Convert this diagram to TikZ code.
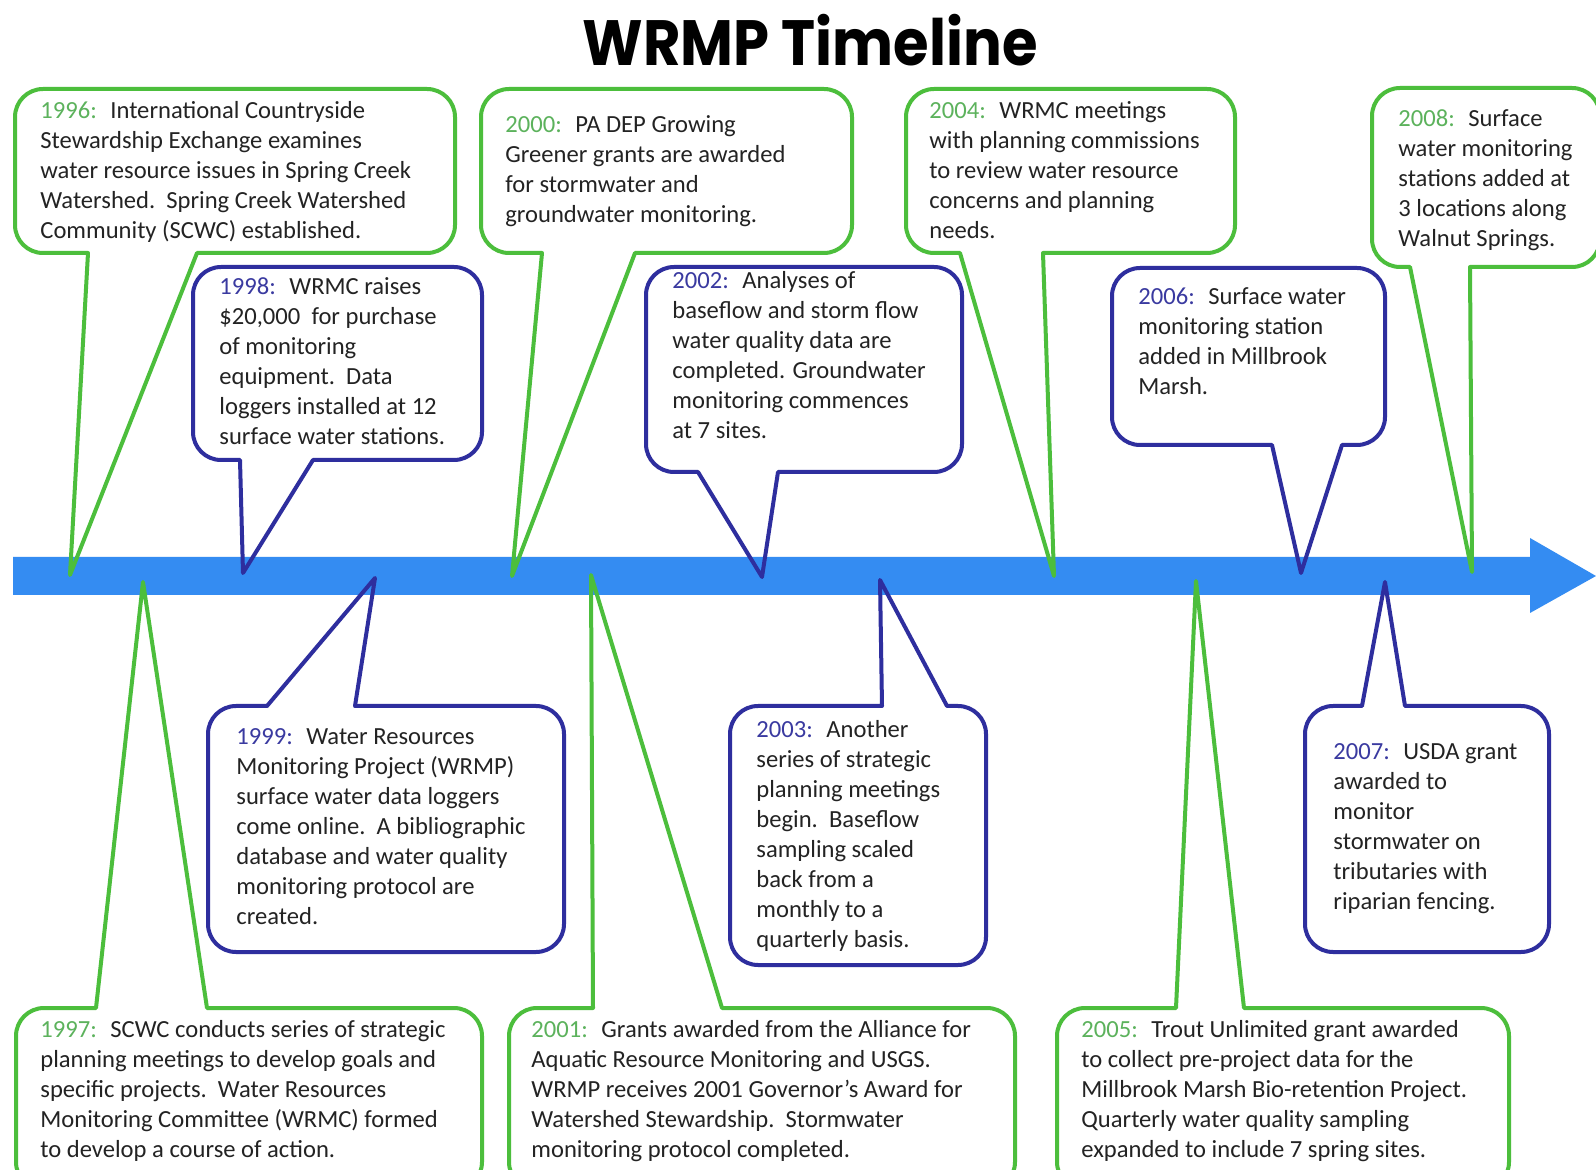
\documentclass[tikz,border=0pt]{standalone}
\usepackage{fontspec}
\setmainfont{Carlito}
\newfontfamily\titlefont{Poppins}
\definecolor{arrowblue}{RGB}{52,140,242}
\definecolor{gline}{RGB}{76,190,60}
\definecolor{bline}{RGB}{46,46,158}
\definecolor{gyear}{RGB}{92,178,92}
\definecolor{byear}{RGB}{58,58,160}
\definecolor{bodytxt}{RGB}{35,35,35}
\tikzset{
  calloutG/.style={draw=gline,line width=2pt,line join=round},
  calloutB/.style={draw=bline,line width=2pt,line join=round},
  txt/.style={anchor=north west,inner sep=0pt,align=left,text=bodytxt,
    font=\fontsize{12.3}{15}\selectfont},
  ttl/.style={font=\titlefont\bfseries\fontsize{32}{38}\selectfont}
}
\newcommand\crad{28}
\newcommand\yg[1]{\textcolor{gyear}{#1}\hspace{0.55em}}
\newcommand\yb[1]{\textcolor{byear}{#1}\hspace{0.55em}}
\newcommand\firstlinestrut{\vrule height 0.75em width 0pt\relax}
% x1 y1 x2 y2 baseleft baseright tipx tipy style
\newcommand\topcall[9]{%
  \draw[#9] (#5,-#4) -- ({#1+\crad},-#4)
    arc[start angle=270,end angle=180,radius=\crad]
    -- (#1,{-#2-\crad})
    arc[start angle=180,end angle=90,radius=\crad]
    -- ({#3-\crad},-#2)
    arc[start angle=90,end angle=0,radius=\crad]
    -- (#3,{-#4+\crad})
    arc[start angle=0,end angle=-90,radius=\crad]
    -- (#6,-#4) -- (#7,-#8) -- cycle;}
\newcommand\botcall[9]{%
  \draw[#9] (#5,-#2) -- (#7,-#8) -- (#6,-#2)
    -- ({#3-\crad},-#2)
    arc[start angle=90,end angle=0,radius=\crad]
    -- (#3,{-#4+\crad})
    arc[start angle=0,end angle=-90,radius=\crad]
    -- ({#1+\crad},-#4)
    arc[start angle=270,end angle=180,radius=\crad]
    -- (#1,{-#2-\crad})
    arc[start angle=180,end angle=90,radius=\crad]
    -- cycle;}
\begin{document}
\begin{tikzpicture}[x=0.5pt,y=0.5pt]
\useasboundingbox (0,0) rectangle (1596,-1170);
\clip (0,0) rectangle (1596,-1170);
\fill[white] (0,0) rectangle (1596,-1170);
% title
\node[ttl,text=black] (title) at (810,-40) {\scalebox{0.9}[1]{WRMP Timeline}};
% timeline arrow
\fill[arrowblue] (13,-557) -- (1530,-557) -- (1530,-538) -- (1596,-576)
  -- (1530,-613) -- (1530,-595) -- (13,-595) -- cycle;
% top callouts
\topcall{15}{89}{455}{253}{88}{197}{70}{575}{calloutG}
\topcall{193}{267}{482}{460}{240}{313}{243}{573}{calloutB}
\topcall{481}{89}{852}{253}{542}{635}{512}{576}{calloutG}
\topcall{646}{267}{962}{472}{698}{778}{762}{577}{calloutB}
\topcall{906}{89}{1235}{253}{960}{1043}{1054}{576}{calloutG}
\topcall{1112}{268}{1385}{445}{1272}{1342}{1301}{573}{calloutB}
\topcall{1372}{88}{1600}{267}{1410}{1470}{1472}{572}{calloutG}
% bottom callouts
\botcall{16}{1008}{482}{1190}{96}{207}{143}{582}{calloutG}
\botcall{208}{706}{564}{952}{267}{355}{375}{578}{calloutB}
\botcall{509}{1008}{1015}{1190}{593}{722}{591}{575}{calloutG}
\botcall{730}{706}{986}{965}{882}{947}{880}{580}{calloutB}
\botcall{1057}{1008}{1509}{1190}{1176}{1244}{1196}{581}{calloutG}
\botcall{1305}{706}{1549}{952}{1362}{1405}{1385}{582}{calloutB}
% texts
\node[txt] (t1996) at (40,-99.3) {\firstlinestrut\yg{1996:}International Countryside\\
Stewardship Exchange examines\\water resource issues in Spring Creek\\
Watershed.\ \ Spring Creek Watershed\\Community (SCWC) established.};
\node[txt] (t1998) at (219,-275.3) {\firstlinestrut\yb{1998:}WRMC raises\\
\$20,000\ \ for purchase\\of monitoring\\equipment.\ \ Data\\
loggers installed at 12\\surface water stations.};
\node[txt] (t2000) at (505,-113.3) {\firstlinestrut\yg{2000:}PA DEP Growing\\
Greener grants are awarded\\for stormwater and\\groundwater monitoring.};
\node[txt] (t2002) at (672,-269.3) {\firstlinestrut\yb{2002:}Analyses of\\
baseflow and storm flow\\water quality data are\\completed. Groundwater\\
monitoring commences\\at 7 sites.};
\node[txt] (t2004) at (929,-99.5) {\firstlinestrut\yg{2004:}WRMC meetings\\
with planning commissions\\to review water resource\\concerns and planning\\needs.};
\node[txt] (t2006) at (1138,-285.3) {\firstlinestrut\yb{2006:}Surface water\\
monitoring station\\added in Millbrook\\Marsh.};
\node[txt] (t2008) at (1398,-107.3) {\firstlinestrut\yg{2008:}Surface\\
water monitoring\\stations added at\\3 locations along\\Walnut Springs.};
\node[txt] (t1997) at (40,-1018.3) {\firstlinestrut\yg{1997:}SCWC conducts series of strategic\\
planning meetings to develop goals and\\specific projects.\ \ Water Resources\\
Monitoring Committee (WRMC) formed\\to develop a course of action.};
\node[txt] (t1999) at (236,-725.3) {\firstlinestrut\yb{1999:}Water Resources\\
Monitoring Project (WRMP)\\surface water data loggers\\come online.\ \ A bibliographic\\
database and water quality\\monitoring protocol are\\created.};
\node[txt] (t2001) at (531,-1018.3) {\firstlinestrut\yg{2001:}Grants awarded from the Alliance for\\
Aquatic Resource Monitoring and USGS.\\WRMP receives 2001 Governor’s Award for\\
Watershed Stewardship.\ \ Stormwater\\monitoring protocol completed.};
\node[txt] (t2003) at (756,-718.3) {\firstlinestrut\yb{2003:}Another\\
series of strategic\\planning meetings\\begin.\ \ Baseflow\\sampling scaled\\
back from a\\monthly to a\\quarterly basis.};
\node[txt] (t2005) at (1081,-1018.3) {\firstlinestrut\yg{2005:}Trout Unlimited grant awarded\\
to collect pre-project data for the\\Millbrook Marsh Bio-retention Project.\\
Quarterly water quality sampling\\expanded to include 7 spring sites.};
\node[txt] (t2007) at (1333,-740.3) {\firstlinestrut\yb{2007:}USDA grant\\
awarded to\\monitor\\stormwater on\\tributaries with\\riparian fencing.};
\end{tikzpicture}
\end{document}
